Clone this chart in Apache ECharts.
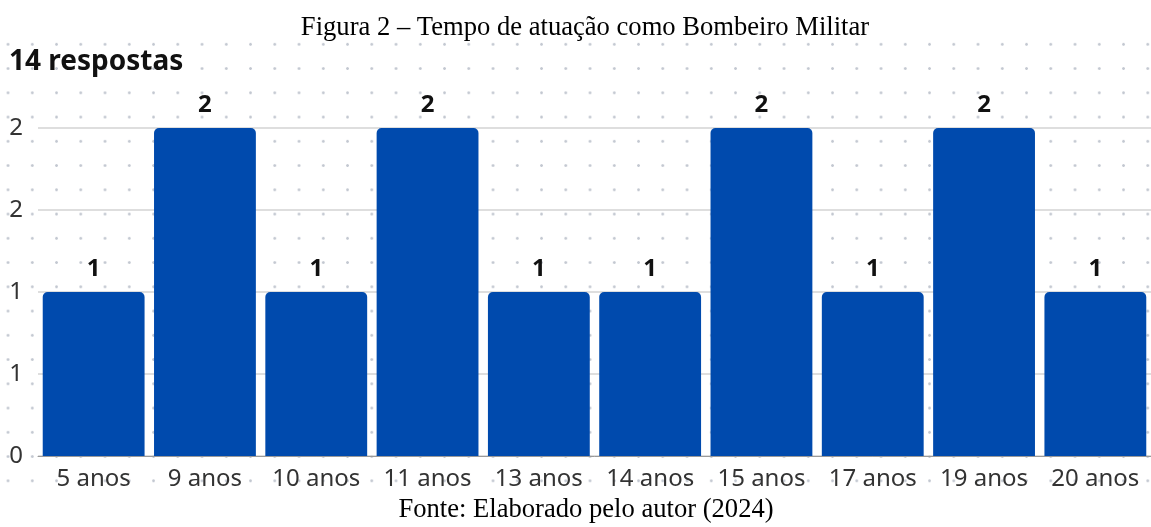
<!DOCTYPE html>
<html>
<head>
<meta charset="utf-8">
<script src="https://cdn.jsdelivr.net/npm/echarts@6/dist/echarts.min.js"></script>
<style>
  html, body { margin: 0; padding: 0; background: #fff; }
  .wrap { position: relative; width: 1151px; height: 527px; }
  .dots {
    position: absolute; left: 0; top: 32px; width: 1151px; height: 458px;
    background-image: radial-gradient(circle, #c3c8d1 1.1px, rgba(255,255,255,0) 1.6px);
    background-size: 24.25px 24.25px;
    background-position: -4.1px 0.2px;
  }
  #chart { position: absolute; left: 0; top: 0; width: 1151px; height: 527px; }
</style>
</head>
<body>
<div class="wrap">
  <div class="dots"></div>
  <div id="chart"></div>
</div>
<script>
// dados
const categorias = ['5 anos', '9 anos', '10 anos', '11 anos', '13 anos', '14 anos', '15 anos', '17 anos', '19 anos', '20 anos']
const respostas = [1, 2, 1, 2, 1, 1, 2, 1, 2, 1]
const titulo = 'Figura 2 – Tempo de atuação como Bombeiro Militar'
const subtitulo = '14 respostas'
const fonte = 'Fonte: Elaborado pelo autor (2024)'

const chart = echarts.init(document.getElementById('chart'), null, { renderer: 'canvas' })

const serif = { fontFamily: 'Liberation Serif', fontSize: 26.6, fill: '#000' }

const option = {
  backgroundColor: 'transparent',
  animation: false,
  graphic: [
    {
      type: 'text',
      x: 585,
      y: 28,
      style: { ...serif, text: titulo, align: 'center', verticalAlign: 'middle' },
    },
    {
      type: 'text',
      x: 586,
      y: 510,
      style: { ...serif, text: fonte, align: 'center', verticalAlign: 'middle' },
    },
  ],
  title: {
    text: subtitulo,
    left: 4,
    top: 43,
    textStyle: { fontFamily: 'Noto Sans', fontSize: 28, fontWeight: 'bold', color: '#111' },
  },
  grid: {
    left: 38,
    right: 0,
    top: 128,
    bottom: 71,
  },
  xAxis: {
    type: 'category',
    data: categorias,
    axisTick: { show: false },
    axisLine: { lineStyle: { color: '#9a9a9a', width: 1 } },
    axisLabel: {
      fontFamily: 'Noto Sans',
      fontSize: 24,
      color: '#333',
      margin: 11,
      interval: 0,
    },
  },
  yAxis: {
    type: 'value',
    min: 0,
    max: 2,
    interval: 0.5,
    axisLine: { show: false },
    axisTick: { show: false },
    splitLine: { lineStyle: { color: '#d3d3d3', width: 1.5 } },
    axisLabel: {
      fontFamily: 'Noto Sans',
      fontSize: 24,
      color: '#333',
      margin: 15,
      formatter: function (v) {
        return Math.round(v)
      },
    },
  },
  series: [
    {
      type: 'bar',
      data: respostas,
      barCategoryGap: '8.5%',
      itemStyle: {
        color: '#004aad',
        borderRadius: [5, 5, 0, 0],
      },
      label: {
        show: true,
        position: 'top',
        distance: 11,
        fontFamily: 'Noto Sans',
        fontSize: 24,
        fontWeight: 'bold',
        color: '#111',
      },
    },
  ],
}

chart.setOption(option)
</script>
</body>
</html>
